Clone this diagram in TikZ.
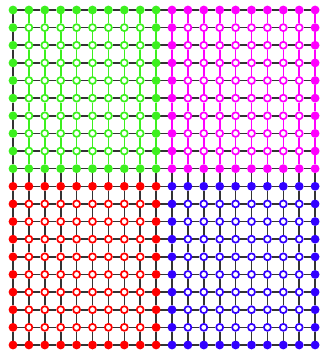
\documentclass[tikz,border=0pt]{standalone}
\usetikzlibrary{backgrounds}

\definecolor{part0}{RGB}{60,240,30}
\definecolor{part1}{RGB}{255,0,255}
\definecolor{part2}{RGB}{255,0,0}
\definecolor{part3}{RGB}{50,0,255}

\begin{document}
\begin{tikzpicture}[
        x=1pt, y=-1pt,
        dot/.style={circle, inner sep=0pt, minimum size=7pt, line width=1.7pt},
        link/.style={line width=1.6pt, black!80},
        cut/.style={line width=1.6pt},
      ]
        \useasboundingbox (0,0) rectangle (324,356);

        % Mesh nodes, one part per quadrant
        \foreach \i in {1,...,20}{
          \foreach \j in {1,...,20}{
            \pgfmathtruncatemacro{\q}{(\i>10)+2*(\j>10)}
            \pgfmathtruncatemacro{\li}{mod(\i-1,10)+1}
            \pgfmathtruncatemacro{\lj}{mod(\j-1,10)+1}
            \pgfmathtruncatemacro{\rim}{(\li==1)||(\li==10)||(\lj==1)||(\lj==10)}
            \edef\fillc{\ifnum\rim=1 part\q\else white\fi}
            \node[dot, draw=part\q, fill=\fillc] (n-\i-\j)
              at ({13+(\i-1)*15.9}, {10+(\j-1)*17.63}) {};
          }
        }

        \begin{scope}[on background layer]
          % Horizontal links
          \foreach \i [evaluate=\i as \k using int(\i+1)] in {1,...,19}
            \foreach \j in {1,...,20}
              \draw[link] (n-\i-\j) -- (n-\k-\j);

          % Vertical links, plain
          \foreach \j [evaluate=\j as \m using int(\j+1)] in {10,...,19}
            \foreach \i in {1,...,20}
              \draw[link] (n-\i-\j) -- (n-\i-\m);
          \foreach \j [evaluate=\j as \m using int(\j+1)] in {1,...,9}
            \draw[link] (n-1-\j) -- (n-1-\m);

          % Vertical links, coloured by part
          \foreach \j [evaluate=\j as \m using int(\j+1)] in {1,...,9}{
            \foreach \i in {2,...,10}
              \draw[cut, part0] (n-\i-\j) -- (n-\i-\m);
            \foreach \i in {11,...,20}
              \draw[cut, part1] (n-\i-\j) -- (n-\i-\m);
          }
        \end{scope}
      \end{tikzpicture}
\end{document}
